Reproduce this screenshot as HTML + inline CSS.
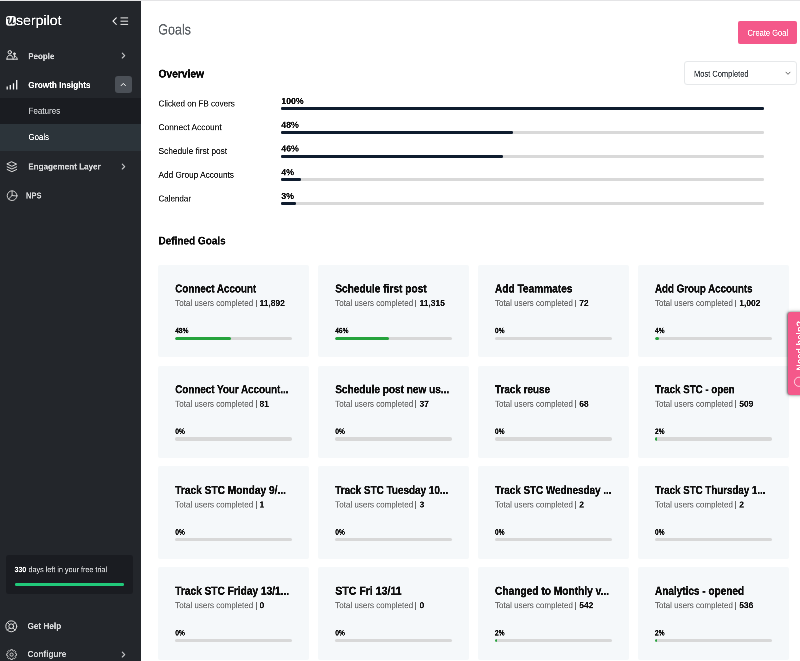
<!DOCTYPE html><html><head><meta charset="utf-8"><title>Goals</title><style>
html,body{margin:0;padding:0;background:#fff;overflow:hidden}
body{width:800px;height:661px;position:relative;font-family:"Liberation Sans", sans-serif}
.t{position:absolute;white-space:nowrap;line-height:1;transform-origin:0 0;font-family:"Liberation Sans", sans-serif}
</style></head><body><div style="position:absolute;left:0;top:0;width:800px;height:661px;overflow:hidden;will-change:transform">
<div style="position:absolute;left:0px;top:0px;width:140.8px;height:661px;background:#23262b;border-radius:0px;"></div>
<div style="position:absolute;left:0px;top:98.25px;width:140.8px;height:26px;background:#1a1c21;border-radius:0px;"></div>
<div style="position:absolute;left:0px;top:124.25px;width:140.8px;height:26.5px;background:#2c343a;border-radius:0px;"></div>
<svg style="position:absolute;left:5.9px;top:16.3px" width="10" height="10" viewBox="0 0 10 10"><rect x="0" y="0" width="9.9" height="9.7" rx="2.7" fill="#fff"/><path d="M1.5 2.6 C2.2 1.6 3.3 1.5 3.2 2.6 L2.6 6.2 C2.4 7.8 3.6 8.2 4.6 7.2 C5.6 6.2 6.3 4.2 6.7 1.9 M6.9 1.7 L6.2 6.6 C6.0 8.0 7.2 8.1 8.3 6.9" fill="none" stroke="#23262b" stroke-width="1.25" stroke-linecap="round" stroke-linejoin="round"/></svg>
<svg style="position:absolute;left:111px;top:16px" width="20" height="11" viewBox="0 0 20 11"><path d="M5.3 1.9 L2 5.2 L5.3 8.5" fill="none" stroke="#fff" stroke-width="1.05" stroke-linecap="round" stroke-linejoin="round"/><path d="M9.5 1.9h7.6M9.5 5.2h7.6M9.5 8.4h7.6" stroke="#eee" stroke-width="1" stroke-linecap="butt"/></svg>
<svg style="position:absolute;left:5.5px;top:50.3px" width="13" height="11" viewBox="0 0 13 11"><g fill="none" stroke="#ececec" stroke-width="1" stroke-linecap="round" stroke-linejoin="round"><circle cx="3.8" cy="2.25" r="1.7"/><path d="M0.9 9.2 C0.9 6.6 2.2 5.1 3.9 5.1 C5.6 5.1 7 6.6 7.2 9.2 M0.9 9.2 H11.2"/><circle cx="8.4" cy="3.8" r="0.95" fill="#cfcfcf" stroke-width="0.8"/><path d="M8.4 5.2 V7.4 M9.5 6.3 C10.6 6.9 11.1 7.9 11.2 9.2" /></g></svg>
<svg style="position:absolute;left:121.2px;top:52.2px" width="5" height="7" viewBox="0 0 5 7"><path d="M1.3 1.1 L3.7 3.55 L1.3 6" fill="none" stroke="#c9cacc" stroke-width="1.1" stroke-linecap="round" stroke-linejoin="round"/></svg>
<svg style="position:absolute;left:5.5px;top:78.5px" width="13" height="12" viewBox="0 0 13 12"><path d="M1.2 10.6V7.4 M4.3 10.6V6.1 M7.5 10.6V4.3 M10.7 10.6V0.9" fill="none" stroke="#fff" stroke-width="1.25" stroke-linecap="butt"/></svg>
<div style="position:absolute;left:115px;top:75.75px;width:16.75px;height:16.75px;background:#4b5057;border-radius:3px;"></div>
<svg style="position:absolute;left:120.4px;top:82px" width="7" height="5" viewBox="0 0 7 5"><path d="M1.2 3.6 L3.3 1.4 L5.4 3.6" fill="none" stroke="#fff" stroke-width="1" stroke-linecap="round" stroke-linejoin="round"/></svg>
<svg style="position:absolute;left:6px;top:160.5px" width="12" height="12" viewBox="0 0 12 12"><g fill="none" stroke="#e0e0e0" stroke-width="1" stroke-linecap="round" stroke-linejoin="round"><path d="M5.9 0.9 L10.6 3.1 L5.9 5.3 L1.2 3.1 Z"/><path d="M1.2 5.8 L5.9 8 L10.6 5.8"/><path d="M1.2 8.5 L5.9 10.7 L10.6 8.5"/></g></svg>
<svg style="position:absolute;left:121.2px;top:162.8px" width="5" height="7" viewBox="0 0 5 7"><path d="M1.3 1.1 L3.7 3.55 L1.3 6" fill="none" stroke="#c9cacc" stroke-width="1.1" stroke-linecap="round" stroke-linejoin="round"/></svg>
<svg style="position:absolute;left:5.6px;top:189.2px" width="12" height="12" viewBox="0 0 12 12"><g fill="none" stroke="#d4d4d4" stroke-width="0.95" stroke-linecap="round"><circle cx="6.1" cy="6.7" r="4.85"/><path d="M6.1 1.9V6.5 M6.1 6.5 L10.9 7 M6.1 6.5 L2.6 10"/></g></svg>
<div style="position:absolute;left:5.5px;top:555px;width:127px;height:38.75px;background:#1a1c21;border-radius:3px;"></div>
<div style="position:absolute;left:14.5px;top:582.9px;width:109.25px;height:2.7px;background:#21c97a;border-radius:1.35px;"></div>
<svg style="position:absolute;left:5px;top:619.55px" width="13" height="13" viewBox="0 0 13 13"><g fill="none" stroke="#e0e0e0" stroke-width="1" stroke-linecap="round"><circle cx="6.25" cy="6.3" r="5.45"/><circle cx="6.25" cy="6.3" r="2.4"/><path d="M2.4 2.45 L4.55 4.6 M10.1 2.45 L7.95 4.6 M2.4 10.15 L4.55 8 M10.1 10.15 L7.95 8"/></g></svg>
<svg style="position:absolute;left:5.6px;top:648.5px" width="12" height="12" viewBox="0 0 12 12"><g fill="none" stroke="#d4d4d4" stroke-width="0.95" stroke-linejoin="round"><path d="M4.74 0.67 L6.46 0.67 L6.62 1.63 L7.69 2.07 L8.48 1.51 L9.69 2.72 L9.13 3.51 L9.57 4.58 L10.53 4.74 L10.53 6.46 L9.57 6.62 L9.13 7.69 L9.69 8.48 L8.48 9.69 L7.69 9.13 L6.62 9.57 L6.46 10.53 L4.74 10.53 L4.58 9.57 L3.51 9.13 L2.72 9.69 L1.51 8.48 L2.07 7.69 L1.63 6.62 L0.67 6.46 L0.67 4.74 L1.63 4.58 L2.07 3.51 L1.51 2.72 L2.72 1.51 L3.51 2.07 L4.58 1.63 Z"/><circle cx="5.60" cy="5.60" r="1.6"/></g></svg>
<svg style="position:absolute;left:121.2px;top:650.8px" width="5" height="7" viewBox="0 0 5 7"><path d="M1.3 1.1 L3.7 3.55 L1.3 6" fill="none" stroke="#c9cacc" stroke-width="1.1" stroke-linecap="round" stroke-linejoin="round"/></svg>
<div style="position:absolute;left:0px;top:0px;width:800px;height:0.8px;background:#e4e4e6;border-radius:0px;"></div>
<div style="position:absolute;left:738px;top:21px;width:59px;height:22.7px;background:#f4588a;border-radius:2px;"></div>
<div style="position:absolute;left:684.4px;top:61.4px;width:112.6px;height:23.4px;box-sizing:border-box;border:1px solid #e6e8ea;border-radius:3px;background:#fff"></div>
<svg style="position:absolute;left:784.8px;top:71.3px" width="7" height="5" viewBox="0 0 7 5"><path d="M1 1.2 L3 3.3 L5 1.2" fill="none" stroke="#555" stroke-width="0.9" stroke-linecap="round" stroke-linejoin="round"/></svg>
<div style="position:absolute;left:281.3px;top:107px;width:482.9px;height:2.5px;background:#d9d9d9;border-radius:1.25px;"></div>
<div style="position:absolute;left:281.3px;top:107px;width:482.9px;height:2.5px;background:#0f1c2e;border-radius:1.25px;"></div>
<div style="position:absolute;left:281.3px;top:131px;width:482.9px;height:2.5px;background:#d9d9d9;border-radius:1.25px;"></div>
<div style="position:absolute;left:281.3px;top:131px;width:231.79199999999997px;height:2.5px;background:#0f1c2e;border-radius:1.25px;"></div>
<div style="position:absolute;left:281.3px;top:155px;width:482.9px;height:2.5px;background:#d9d9d9;border-radius:1.25px;"></div>
<div style="position:absolute;left:281.3px;top:155px;width:222.134px;height:2.5px;background:#0f1c2e;border-radius:1.25px;"></div>
<div style="position:absolute;left:281.3px;top:178px;width:482.9px;height:2.5px;background:#d9d9d9;border-radius:1.25px;"></div>
<div style="position:absolute;left:281.3px;top:178px;width:19.316px;height:2.5px;background:#0f1c2e;border-radius:1.25px;"></div>
<div style="position:absolute;left:281.3px;top:202px;width:482.9px;height:2.5px;background:#d9d9d9;border-radius:1.25px;"></div>
<div style="position:absolute;left:281.3px;top:202px;width:14.486999999999998px;height:2.5px;background:#0f1c2e;border-radius:1.25px;"></div>
<div style="position:absolute;left:158.4px;top:264.85px;width:150.6px;height:92.6px;background:#f5f8fa;border-radius:2px;"></div>
<div style="position:absolute;left:255.55px;top:299.65000000000003px;width:0.8px;height:7.7px;background:#6a6a6a;border-radius:0px;"></div>
<div style="position:absolute;left:175.05px;top:336.50px;width:117.45px;height:3.4px;background:#d8d8d8;border-radius:1.7px;overflow:hidden"><div style="width:56.38px;height:3.4px;background:#25a33c;border-radius:1.7px"></div></div>
<div style="position:absolute;left:318.3px;top:264.85px;width:150.6px;height:92.6px;background:#f5f8fa;border-radius:2px;"></div>
<div style="position:absolute;left:415.45000000000005px;top:299.65000000000003px;width:0.8px;height:7.7px;background:#6a6a6a;border-radius:0px;"></div>
<div style="position:absolute;left:334.95px;top:336.50px;width:117.45px;height:3.4px;background:#d8d8d8;border-radius:1.7px;overflow:hidden"><div style="width:54.03px;height:3.4px;background:#25a33c;border-radius:1.7px"></div></div>
<div style="position:absolute;left:478.20000000000005px;top:264.85px;width:150.6px;height:92.6px;background:#f5f8fa;border-radius:2px;"></div>
<div style="position:absolute;left:575.35px;top:299.65000000000003px;width:0.8px;height:7.7px;background:#6a6a6a;border-radius:0px;"></div>
<div style="position:absolute;left:494.85px;top:336.50px;width:117.45px;height:3.4px;background:#d8d8d8;border-radius:1.7px;overflow:hidden"></div>
<div style="position:absolute;left:638.1px;top:264.85px;width:150.6px;height:92.6px;background:#f5f8fa;border-radius:2px;"></div>
<div style="position:absolute;left:735.25px;top:299.65000000000003px;width:0.8px;height:7.7px;background:#6a6a6a;border-radius:0px;"></div>
<div style="position:absolute;left:654.75px;top:336.50px;width:117.45px;height:3.4px;background:#d8d8d8;border-radius:1.7px;overflow:hidden"><div style="width:4.70px;height:3.4px;background:#25a33c;border-radius:1.7px"></div></div>
<div style="position:absolute;left:158.4px;top:365.6px;width:150.6px;height:92.6px;background:#f5f8fa;border-radius:2px;"></div>
<div style="position:absolute;left:255.55px;top:400.40000000000003px;width:0.8px;height:7.7px;background:#6a6a6a;border-radius:0px;"></div>
<div style="position:absolute;left:175.05px;top:437.25px;width:117.45px;height:3.4px;background:#d8d8d8;border-radius:1.7px;overflow:hidden"></div>
<div style="position:absolute;left:318.3px;top:365.6px;width:150.6px;height:92.6px;background:#f5f8fa;border-radius:2px;"></div>
<div style="position:absolute;left:415.45000000000005px;top:400.40000000000003px;width:0.8px;height:7.7px;background:#6a6a6a;border-radius:0px;"></div>
<div style="position:absolute;left:334.95px;top:437.25px;width:117.45px;height:3.4px;background:#d8d8d8;border-radius:1.7px;overflow:hidden"></div>
<div style="position:absolute;left:478.20000000000005px;top:365.6px;width:150.6px;height:92.6px;background:#f5f8fa;border-radius:2px;"></div>
<div style="position:absolute;left:575.35px;top:400.40000000000003px;width:0.8px;height:7.7px;background:#6a6a6a;border-radius:0px;"></div>
<div style="position:absolute;left:494.85px;top:437.25px;width:117.45px;height:3.4px;background:#d8d8d8;border-radius:1.7px;overflow:hidden"></div>
<div style="position:absolute;left:638.1px;top:365.6px;width:150.6px;height:92.6px;background:#f5f8fa;border-radius:2px;"></div>
<div style="position:absolute;left:735.25px;top:400.40000000000003px;width:0.8px;height:7.7px;background:#6a6a6a;border-radius:0px;"></div>
<div style="position:absolute;left:654.75px;top:437.25px;width:117.45px;height:3.4px;background:#d8d8d8;border-radius:1.7px;overflow:hidden"><div style="width:2.35px;height:3.4px;background:#25a33c;border-radius:1.7px"></div></div>
<div style="position:absolute;left:158.4px;top:466.35px;width:150.6px;height:92.6px;background:#f5f8fa;border-radius:2px;"></div>
<div style="position:absolute;left:255.55px;top:501.15000000000003px;width:0.8px;height:7.7px;background:#6a6a6a;border-radius:0px;"></div>
<div style="position:absolute;left:175.05px;top:538.00px;width:117.45px;height:3.4px;background:#d8d8d8;border-radius:1.7px;overflow:hidden"></div>
<div style="position:absolute;left:318.3px;top:466.35px;width:150.6px;height:92.6px;background:#f5f8fa;border-radius:2px;"></div>
<div style="position:absolute;left:415.45000000000005px;top:501.15000000000003px;width:0.8px;height:7.7px;background:#6a6a6a;border-radius:0px;"></div>
<div style="position:absolute;left:334.95px;top:538.00px;width:117.45px;height:3.4px;background:#d8d8d8;border-radius:1.7px;overflow:hidden"></div>
<div style="position:absolute;left:478.20000000000005px;top:466.35px;width:150.6px;height:92.6px;background:#f5f8fa;border-radius:2px;"></div>
<div style="position:absolute;left:575.35px;top:501.15000000000003px;width:0.8px;height:7.7px;background:#6a6a6a;border-radius:0px;"></div>
<div style="position:absolute;left:494.85px;top:538.00px;width:117.45px;height:3.4px;background:#d8d8d8;border-radius:1.7px;overflow:hidden"></div>
<div style="position:absolute;left:638.1px;top:466.35px;width:150.6px;height:92.6px;background:#f5f8fa;border-radius:2px;"></div>
<div style="position:absolute;left:735.25px;top:501.15000000000003px;width:0.8px;height:7.7px;background:#6a6a6a;border-radius:0px;"></div>
<div style="position:absolute;left:654.75px;top:538.00px;width:117.45px;height:3.4px;background:#d8d8d8;border-radius:1.7px;overflow:hidden"></div>
<div style="position:absolute;left:158.4px;top:567.1px;width:150.6px;height:92.6px;background:#f5f8fa;border-radius:2px;"></div>
<div style="position:absolute;left:255.55px;top:601.9px;width:0.8px;height:7.7px;background:#6a6a6a;border-radius:0px;"></div>
<div style="position:absolute;left:175.05px;top:638.75px;width:117.45px;height:3.4px;background:#d8d8d8;border-radius:1.7px;overflow:hidden"></div>
<div style="position:absolute;left:318.3px;top:567.1px;width:150.6px;height:92.6px;background:#f5f8fa;border-radius:2px;"></div>
<div style="position:absolute;left:415.45000000000005px;top:601.9px;width:0.8px;height:7.7px;background:#6a6a6a;border-radius:0px;"></div>
<div style="position:absolute;left:334.95px;top:638.75px;width:117.45px;height:3.4px;background:#d8d8d8;border-radius:1.7px;overflow:hidden"></div>
<div style="position:absolute;left:478.20000000000005px;top:567.1px;width:150.6px;height:92.6px;background:#f5f8fa;border-radius:2px;"></div>
<div style="position:absolute;left:575.35px;top:601.9px;width:0.8px;height:7.7px;background:#6a6a6a;border-radius:0px;"></div>
<div style="position:absolute;left:494.85px;top:638.75px;width:117.45px;height:3.4px;background:#d8d8d8;border-radius:1.7px;overflow:hidden"><div style="width:2.35px;height:3.4px;background:#25a33c;border-radius:1.7px"></div></div>
<div style="position:absolute;left:638.1px;top:567.1px;width:150.6px;height:92.6px;background:#f5f8fa;border-radius:2px;"></div>
<div style="position:absolute;left:735.25px;top:601.9px;width:0.8px;height:7.7px;background:#6a6a6a;border-radius:0px;"></div>
<div style="position:absolute;left:654.75px;top:638.75px;width:117.45px;height:3.4px;background:#d8d8d8;border-radius:1.7px;overflow:hidden"><div style="width:2.35px;height:3.4px;background:#25a33c;border-radius:1.7px"></div></div>
<div style="position:absolute;left:787.8px;top:312.4px;width:16px;height:82.8px;background:#f4588a;border-radius:3px;box-shadow:-0.8px 0 2px rgba(0,0,0,.5),0 0 4px rgba(0,0,0,.3)"></div>
<svg style="position:absolute;left:793px;top:375.5px" width="12" height="12" viewBox="0 0 12 12"><circle cx="6" cy="5.8" r="4.6" fill="none" stroke="#fff" stroke-width="0.9" opacity=".8"/></svg>
<div style="position:absolute;left:0;top:0;width:3200px;height:2644px;transform:scale(0.25);transform-origin:0 0">
<span class="t" style="left:63.60px;top:53.00px;font-size:56px;font-weight:400;color:#fff;transform:scaleX(1.0077);-webkit-text-stroke:0.72px #fff;">serpilot</span>
<span class="t" style="left:112.80px;top:206.60px;font-size:35.2px;font-weight:700;color:#d6d7d9;transform:scaleX(0.9078);-webkit-text-stroke:0.72px #d6d7d9;">People</span>
<span class="t" style="left:112.80px;top:321.80px;font-size:35.2px;font-weight:700;color:#fff;transform:scaleX(0.9291);-webkit-text-stroke:0.72px #fff;">Growth Insights</span>
<span class="t" style="left:114.40px;top:425.88px;font-size:34.4px;font-weight:400;color:#c3c5c8;transform:scaleX(0.9338);-webkit-text-stroke:0.72px #c3c5c8;">Features</span>
<span class="t" style="left:114.40px;top:530.88px;font-size:34.4px;font-weight:400;color:#ffffff;transform:scaleX(0.9111);-webkit-text-stroke:0.72px #ffffff;">Goals</span>
<span class="t" style="left:112.80px;top:648.20px;font-size:35.2px;font-weight:700;color:#d6d7d9;transform:scaleX(0.9206);-webkit-text-stroke:0.72px #d6d7d9;">Engagement Layer</span>
<span class="t" style="left:104.00px;top:764.20px;font-size:35.2px;font-weight:700;color:#d6d7d9;transform:scaleX(0.8611);-webkit-text-stroke:0.72px #d6d7d9;">NPS</span>
<span class="t" style="left:58.00px;top:2262.11px;font-size:32px;font-weight:700;color:#fff;transform:scaleX(0.8679);-webkit-text-stroke:0.72px #fff;">330</span>
<span class="t" style="left:113.60px;top:2262.11px;font-size:32px;font-weight:400;color:#cfd0d2;transform:scaleX(0.9009);-webkit-text-stroke:0.72px #cfd0d2;">days left in your free trial</span>
<span class="t" style="left:110.00px;top:2486.20px;font-size:35.2px;font-weight:700;color:#d6d7d9;transform:scaleX(0.9310);-webkit-text-stroke:0.72px #d6d7d9;">Get Help</span>
<span class="t" style="left:110.00px;top:2598.20px;font-size:35.2px;font-weight:700;color:#d6d7d9;transform:scaleX(0.9337);-webkit-text-stroke:0.72px #d6d7d9;">Configure</span>
<span class="t" style="left:632.80px;top:88.29px;font-size:59.2px;font-weight:400;color:#5c6166;transform:scaleX(0.8465);-webkit-text-stroke:0.72px #5c6166;">Goals</span>
<span class="t" style="left:2989.60px;top:112.77px;font-size:35px;font-weight:400;color:#fff;transform:scaleX(0.8593);-webkit-text-stroke:0.60px #fff;">Create Goal</span>
<span class="t" style="left:633.60px;top:271.51px;font-size:45px;font-weight:700;color:#0c0c0c;transform:scaleX(0.9100);-webkit-text-stroke:1.60px #0c0c0c;">Overview</span>
<span class="t" style="left:2776.00px;top:276.77px;font-size:35px;font-weight:400;color:#3a3f45;transform:scaleX(0.8565);-webkit-text-stroke:0.72px #3a3f45;">Most Completed</span>
<span class="t" style="left:634.40px;top:395.80px;font-size:35.2px;font-weight:400;color:#1c1c1c;transform:scaleX(0.9181);-webkit-text-stroke:0.72px #1c1c1c;">Clicked on FB covers</span>
<span class="t" style="left:1125.20px;top:385.57px;font-size:35px;font-weight:700;color:#111;-webkit-text-stroke:0.80px #111;">100%</span>
<span class="t" style="left:634.40px;top:490.80px;font-size:35.2px;font-weight:400;color:#1c1c1c;transform:scaleX(0.9504);-webkit-text-stroke:0.72px #1c1c1c;">Connect Account</span>
<span class="t" style="left:1125.20px;top:480.57px;font-size:35px;font-weight:700;color:#111;-webkit-text-stroke:0.80px #111;">48%</span>
<span class="t" style="left:634.40px;top:585.80px;font-size:35.2px;font-weight:400;color:#1c1c1c;transform:scaleX(0.9481);-webkit-text-stroke:0.72px #1c1c1c;">Schedule first post</span>
<span class="t" style="left:1125.20px;top:575.57px;font-size:35px;font-weight:700;color:#111;-webkit-text-stroke:0.80px #111;">46%</span>
<span class="t" style="left:634.40px;top:680.80px;font-size:35.2px;font-weight:400;color:#1c1c1c;transform:scaleX(0.9350);-webkit-text-stroke:0.72px #1c1c1c;">Add Group Accounts</span>
<span class="t" style="left:1125.20px;top:670.57px;font-size:35px;font-weight:700;color:#111;-webkit-text-stroke:0.80px #111;">4%</span>
<span class="t" style="left:634.40px;top:775.80px;font-size:35.2px;font-weight:400;color:#1c1c1c;transform:scaleX(0.9091);-webkit-text-stroke:0.72px #1c1c1c;">Calendar</span>
<span class="t" style="left:1125.20px;top:765.57px;font-size:35px;font-weight:700;color:#111;-webkit-text-stroke:0.80px #111;">3%</span>
<span class="t" style="left:634.00px;top:939.51px;font-size:45px;font-weight:700;color:#0c0c0c;transform:scaleX(0.8884);-webkit-text-stroke:1.00px #111;">Defined Goals</span>
<span class="t" style="left:701.00px;top:1130.78px;font-size:46.8px;font-weight:700;color:#111;transform:scaleX(0.8394);-webkit-text-stroke:1.68px #111;">Connect Account</span>
<span class="t" style="left:701.00px;top:1194.88px;font-size:34.4px;font-weight:400;color:#707070;transform:scaleX(0.9313);-webkit-text-stroke:0.72px #707070;">Total users completed</span>
<span class="t" style="left:1038.20px;top:1194.37px;font-size:35px;font-weight:700;color:#111;transform:scaleX(0.9650);-webkit-text-stroke:0.60px #111;">11,892</span>
<span class="t" style="left:701.00px;top:1306.99px;font-size:31.2px;font-weight:700;color:#111;transform:scaleX(0.8500);-webkit-text-stroke:1.20px #111;">48%</span>
<span class="t" style="left:1340.60px;top:1130.78px;font-size:46.8px;font-weight:700;color:#111;transform:scaleX(0.8679);-webkit-text-stroke:1.68px #111;">Schedule first post</span>
<span class="t" style="left:1340.60px;top:1194.88px;font-size:34.4px;font-weight:400;color:#707070;transform:scaleX(0.9313);-webkit-text-stroke:0.72px #707070;">Total users completed</span>
<span class="t" style="left:1677.80px;top:1194.37px;font-size:35px;font-weight:700;color:#111;transform:scaleX(0.9650);-webkit-text-stroke:0.60px #111;">11,315</span>
<span class="t" style="left:1340.60px;top:1306.99px;font-size:31.2px;font-weight:700;color:#111;transform:scaleX(0.8500);-webkit-text-stroke:1.20px #111;">46%</span>
<span class="t" style="left:1980.20px;top:1130.78px;font-size:46.8px;font-weight:700;color:#111;transform:scaleX(0.8654);-webkit-text-stroke:1.68px #111;">Add Teammates</span>
<span class="t" style="left:1980.20px;top:1194.88px;font-size:34.4px;font-weight:400;color:#707070;transform:scaleX(0.9313);-webkit-text-stroke:0.72px #707070;">Total users completed</span>
<span class="t" style="left:2317.40px;top:1194.37px;font-size:35px;font-weight:700;color:#111;transform:scaleX(0.9650);-webkit-text-stroke:0.60px #111;">72</span>
<span class="t" style="left:1980.20px;top:1306.99px;font-size:31.2px;font-weight:700;color:#111;transform:scaleX(0.8500);-webkit-text-stroke:1.20px #111;">0%</span>
<span class="t" style="left:2619.80px;top:1130.78px;font-size:46.8px;font-weight:700;color:#111;transform:scaleX(0.8320);-webkit-text-stroke:1.68px #111;">Add Group Accounts</span>
<span class="t" style="left:2619.80px;top:1194.88px;font-size:34.4px;font-weight:400;color:#707070;transform:scaleX(0.9313);-webkit-text-stroke:0.72px #707070;">Total users completed</span>
<span class="t" style="left:2957.00px;top:1194.37px;font-size:35px;font-weight:700;color:#111;transform:scaleX(0.9650);-webkit-text-stroke:0.60px #111;">1,002</span>
<span class="t" style="left:2619.80px;top:1306.99px;font-size:31.2px;font-weight:700;color:#111;transform:scaleX(0.8500);-webkit-text-stroke:1.20px #111;">4%</span>
<span class="t" style="left:701.00px;top:1533.78px;font-size:46.8px;font-weight:700;color:#111;transform:scaleX(0.8389);-webkit-text-stroke:1.68px #111;">Connect Your Account...</span>
<span class="t" style="left:701.00px;top:1597.88px;font-size:34.4px;font-weight:400;color:#707070;transform:scaleX(0.9313);-webkit-text-stroke:0.72px #707070;">Total users completed</span>
<span class="t" style="left:1038.20px;top:1597.37px;font-size:35px;font-weight:700;color:#111;transform:scaleX(0.9650);-webkit-text-stroke:0.60px #111;">81</span>
<span class="t" style="left:701.00px;top:1709.99px;font-size:31.2px;font-weight:700;color:#111;transform:scaleX(0.8500);-webkit-text-stroke:1.20px #111;">0%</span>
<span class="t" style="left:1340.60px;top:1533.78px;font-size:46.8px;font-weight:700;color:#111;transform:scaleX(0.8592);-webkit-text-stroke:1.68px #111;">Schedule post new us...</span>
<span class="t" style="left:1340.60px;top:1597.88px;font-size:34.4px;font-weight:400;color:#707070;transform:scaleX(0.9313);-webkit-text-stroke:0.72px #707070;">Total users completed</span>
<span class="t" style="left:1677.80px;top:1597.37px;font-size:35px;font-weight:700;color:#111;transform:scaleX(0.9650);-webkit-text-stroke:0.60px #111;">37</span>
<span class="t" style="left:1340.60px;top:1709.99px;font-size:31.2px;font-weight:700;color:#111;transform:scaleX(0.8500);-webkit-text-stroke:1.20px #111;">0%</span>
<span class="t" style="left:1980.20px;top:1533.78px;font-size:46.8px;font-weight:700;color:#111;transform:scaleX(0.8454);-webkit-text-stroke:1.68px #111;">Track reuse</span>
<span class="t" style="left:1980.20px;top:1597.88px;font-size:34.4px;font-weight:400;color:#707070;transform:scaleX(0.9313);-webkit-text-stroke:0.72px #707070;">Total users completed</span>
<span class="t" style="left:2317.40px;top:1597.37px;font-size:35px;font-weight:700;color:#111;transform:scaleX(0.9650);-webkit-text-stroke:0.60px #111;">68</span>
<span class="t" style="left:1980.20px;top:1709.99px;font-size:31.2px;font-weight:700;color:#111;transform:scaleX(0.8500);-webkit-text-stroke:1.20px #111;">0%</span>
<span class="t" style="left:2619.80px;top:1533.78px;font-size:46.8px;font-weight:700;color:#111;transform:scaleX(0.8330);-webkit-text-stroke:1.68px #111;">Track STC - open</span>
<span class="t" style="left:2619.80px;top:1597.88px;font-size:34.4px;font-weight:400;color:#707070;transform:scaleX(0.9313);-webkit-text-stroke:0.72px #707070;">Total users completed</span>
<span class="t" style="left:2957.00px;top:1597.37px;font-size:35px;font-weight:700;color:#111;transform:scaleX(0.9650);-webkit-text-stroke:0.60px #111;">509</span>
<span class="t" style="left:2619.80px;top:1709.99px;font-size:31.2px;font-weight:700;color:#111;transform:scaleX(0.8500);-webkit-text-stroke:1.20px #111;">2%</span>
<span class="t" style="left:701.00px;top:1936.78px;font-size:46.8px;font-weight:700;color:#111;transform:scaleX(0.8686);-webkit-text-stroke:1.68px #111;">Track STC Monday 9/...</span>
<span class="t" style="left:701.00px;top:2000.88px;font-size:34.4px;font-weight:400;color:#707070;transform:scaleX(0.9313);-webkit-text-stroke:0.72px #707070;">Total users completed</span>
<span class="t" style="left:1038.20px;top:2000.37px;font-size:35px;font-weight:700;color:#111;transform:scaleX(0.9650);-webkit-text-stroke:0.60px #111;">1</span>
<span class="t" style="left:701.00px;top:2112.99px;font-size:31.2px;font-weight:700;color:#111;transform:scaleX(0.8500);-webkit-text-stroke:1.20px #111;">0%</span>
<span class="t" style="left:1340.60px;top:1936.78px;font-size:46.8px;font-weight:700;color:#111;transform:scaleX(0.8485);-webkit-text-stroke:1.68px #111;">Track STC Tuesday 10...</span>
<span class="t" style="left:1340.60px;top:2000.88px;font-size:34.4px;font-weight:400;color:#707070;transform:scaleX(0.9313);-webkit-text-stroke:0.72px #707070;">Total users completed</span>
<span class="t" style="left:1677.80px;top:2000.37px;font-size:35px;font-weight:700;color:#111;transform:scaleX(0.9650);-webkit-text-stroke:0.60px #111;">3</span>
<span class="t" style="left:1340.60px;top:2112.99px;font-size:31.2px;font-weight:700;color:#111;transform:scaleX(0.8500);-webkit-text-stroke:1.20px #111;">0%</span>
<span class="t" style="left:1980.20px;top:1936.78px;font-size:46.8px;font-weight:700;color:#111;transform:scaleX(0.8423);-webkit-text-stroke:1.68px #111;">Track STC Wednesday ...</span>
<span class="t" style="left:1980.20px;top:2000.88px;font-size:34.4px;font-weight:400;color:#707070;transform:scaleX(0.9313);-webkit-text-stroke:0.72px #707070;">Total users completed</span>
<span class="t" style="left:2317.40px;top:2000.37px;font-size:35px;font-weight:700;color:#111;transform:scaleX(0.9650);-webkit-text-stroke:0.60px #111;">2</span>
<span class="t" style="left:1980.20px;top:2112.99px;font-size:31.2px;font-weight:700;color:#111;transform:scaleX(0.8500);-webkit-text-stroke:1.20px #111;">0%</span>
<span class="t" style="left:2619.80px;top:1936.78px;font-size:46.8px;font-weight:700;color:#111;transform:scaleX(0.8328);-webkit-text-stroke:1.68px #111;">Track STC Thursday 1...</span>
<span class="t" style="left:2619.80px;top:2000.88px;font-size:34.4px;font-weight:400;color:#707070;transform:scaleX(0.9313);-webkit-text-stroke:0.72px #707070;">Total users completed</span>
<span class="t" style="left:2957.00px;top:2000.37px;font-size:35px;font-weight:700;color:#111;transform:scaleX(0.9650);-webkit-text-stroke:0.60px #111;">2</span>
<span class="t" style="left:2619.80px;top:2112.99px;font-size:31.2px;font-weight:700;color:#111;transform:scaleX(0.8500);-webkit-text-stroke:1.20px #111;">0%</span>
<span class="t" style="left:701.00px;top:2339.78px;font-size:46.8px;font-weight:700;color:#111;transform:scaleX(0.8667);-webkit-text-stroke:1.68px #111;">Track STC Friday 13/1...</span>
<span class="t" style="left:701.00px;top:2403.88px;font-size:34.4px;font-weight:400;color:#707070;transform:scaleX(0.9313);-webkit-text-stroke:0.72px #707070;">Total users completed</span>
<span class="t" style="left:1038.20px;top:2403.37px;font-size:35px;font-weight:700;color:#111;transform:scaleX(0.9650);-webkit-text-stroke:0.60px #111;">0</span>
<span class="t" style="left:701.00px;top:2515.99px;font-size:31.2px;font-weight:700;color:#111;transform:scaleX(0.8500);-webkit-text-stroke:1.20px #111;">0%</span>
<span class="t" style="left:1340.60px;top:2339.78px;font-size:46.8px;font-weight:700;color:#111;transform:scaleX(0.9027);-webkit-text-stroke:1.68px #111;">STC Fri 13/11</span>
<span class="t" style="left:1340.60px;top:2403.88px;font-size:34.4px;font-weight:400;color:#707070;transform:scaleX(0.9313);-webkit-text-stroke:0.72px #707070;">Total users completed</span>
<span class="t" style="left:1677.80px;top:2403.37px;font-size:35px;font-weight:700;color:#111;transform:scaleX(0.9650);-webkit-text-stroke:0.60px #111;">0</span>
<span class="t" style="left:1340.60px;top:2515.99px;font-size:31.2px;font-weight:700;color:#111;transform:scaleX(0.8500);-webkit-text-stroke:1.20px #111;">0%</span>
<span class="t" style="left:1980.20px;top:2339.78px;font-size:46.8px;font-weight:700;color:#111;transform:scaleX(0.8698);-webkit-text-stroke:1.68px #111;">Changed to Monthly v...</span>
<span class="t" style="left:1980.20px;top:2403.88px;font-size:34.4px;font-weight:400;color:#707070;transform:scaleX(0.9313);-webkit-text-stroke:0.72px #707070;">Total users completed</span>
<span class="t" style="left:2317.40px;top:2403.37px;font-size:35px;font-weight:700;color:#111;transform:scaleX(0.9650);-webkit-text-stroke:0.60px #111;">542</span>
<span class="t" style="left:1980.20px;top:2515.99px;font-size:31.2px;font-weight:700;color:#111;transform:scaleX(0.8500);-webkit-text-stroke:1.20px #111;">2%</span>
<span class="t" style="left:2619.80px;top:2339.78px;font-size:46.8px;font-weight:700;color:#111;transform:scaleX(0.8562);-webkit-text-stroke:1.68px #111;">Analytics - opened</span>
<span class="t" style="left:2619.80px;top:2403.88px;font-size:34.4px;font-weight:400;color:#707070;transform:scaleX(0.9313);-webkit-text-stroke:0.72px #707070;">Total users completed</span>
<span class="t" style="left:2957.00px;top:2403.37px;font-size:35px;font-weight:700;color:#111;transform:scaleX(0.9650);-webkit-text-stroke:0.60px #111;">536</span>
<span class="t" style="left:2619.80px;top:2515.99px;font-size:31.2px;font-weight:700;color:#111;transform:scaleX(0.8500);-webkit-text-stroke:1.20px #111;">2%</span>
<span class="t" style="left:3180.80px;top:1483.20px;font-size:38.0px;font-weight:700;color:#fff;transform:rotate(-90deg) scaleX(0.9756);">Need help?</span>
</div></div></body></html>
